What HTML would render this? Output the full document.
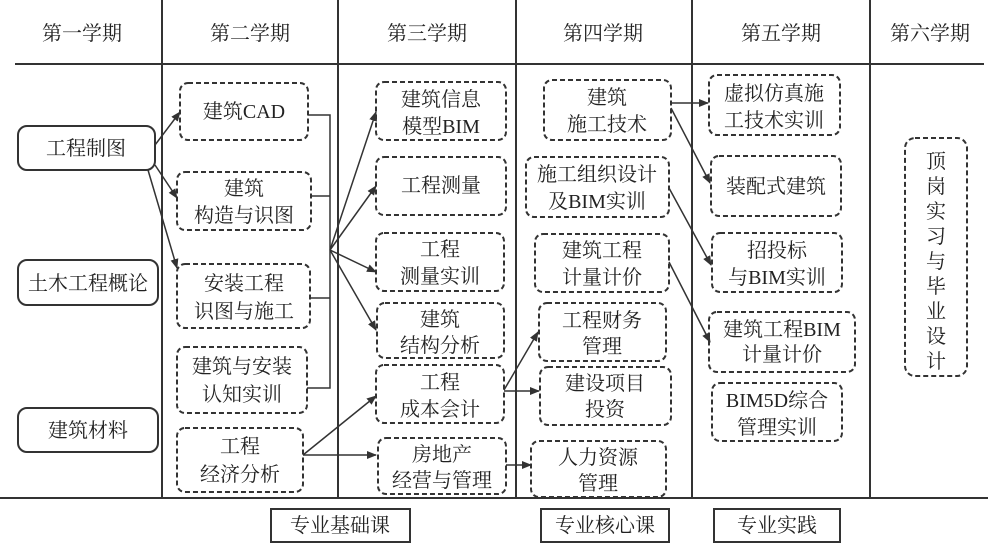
<!DOCTYPE html>
<html><head><meta charset="utf-8"><style>
html,body{margin:0;padding:0;background:#fff}
svg{display:block}
text{font-family:"Liberation Serif","Noto Serif CJK SC","Noto Sans CJK SC",serif;fill:#222;font-size:20px;text-anchor:middle}
.d{fill:#fff;stroke:#333;stroke-width:2;stroke-dasharray:5,3}
.s{fill:#fff;stroke:#333;stroke-width:2}
.l{stroke:#333;stroke-width:1.5;fill:none}
</style></head><body>
<svg width="991" height="552" viewBox="0 0 991 552">
<defs><marker id="a" markerWidth="10" markerHeight="8" refX="9" refY="4" orient="auto" markerUnits="userSpaceOnUse"><path d="M0,0 L10,4 L0,8 z" fill="#333"/></marker></defs>
<g stroke="#333" stroke-width="2">
<line x1="15" y1="64" x2="984" y2="64"/><line x1="0" y1="498" x2="988" y2="498"/>
<line x1="162" y1="0" x2="162" y2="498"/><line x1="338" y1="0" x2="338" y2="498"/><line x1="516" y1="0" x2="516" y2="498"/><line x1="692" y1="0" x2="692" y2="498"/><line x1="870" y1="0" x2="870" y2="498"/>
</g>
<text x="82" y="40">第一学期</text><text x="250" y="40">第二学期</text><text x="427" y="40">第三学期</text><text x="603" y="40">第四学期</text><text x="781" y="40">第五学期</text><text x="930" y="40">第六学期</text>
<rect class="s" x="18" y="126" width="137" height="44" rx="9"/><text x="86" y="155">工程制图</text>
<rect class="s" x="18" y="260" width="140" height="45" rx="9"/><text x="88" y="290">土木工程概论</text>
<rect class="s" x="18" y="408" width="140" height="44" rx="9"/><text x="88" y="437">建筑材料</text>
<rect class="d" x="180" y="83" width="128" height="57" rx="8"/><text x="244" y="118">建筑CAD</text>
<rect class="d" x="177" y="172" width="134" height="58" rx="8"/><text x="244" y="195">建筑</text><text x="244" y="222">构造与识图</text>
<rect class="d" x="177" y="264" width="133" height="64" rx="8"/><text x="244" y="290">安装工程</text><text x="244" y="318">识图与施工</text>
<rect class="d" x="177" y="347" width="130" height="66" rx="8"/><text x="242" y="373">建筑与安装</text><text x="242" y="401">认知实训</text>
<rect class="d" x="177" y="428" width="126" height="64" rx="8"/><text x="240" y="453">工程</text><text x="240" y="481">经济分析</text>
<rect class="d" x="376" y="82" width="130" height="58" rx="8"/><text x="441" y="106">建筑信息</text><text x="441" y="133">模型BIM</text>
<rect class="d" x="376" y="157" width="130" height="58" rx="8"/><text x="441" y="192">工程测量</text>
<rect class="d" x="376" y="233" width="128" height="58" rx="8"/><text x="440" y="256">工程</text><text x="440" y="283">测量实训</text>
<rect class="d" x="377" y="303" width="127" height="55" rx="8"/><text x="440" y="326">建筑</text><text x="440" y="352">结构分析</text>
<rect class="d" x="376" y="365" width="128" height="58" rx="8"/><text x="440" y="389">工程</text><text x="440" y="416">成本会计</text>
<rect class="d" x="378" y="438" width="128" height="56" rx="8"/><text x="442" y="461">房地产</text><text x="442" y="487">经营与管理</text>
<rect class="d" x="544" y="80" width="127" height="60" rx="8"/><text x="607" y="104">建筑</text><text x="607" y="131">施工技术</text>
<rect class="d" x="526" y="157" width="143" height="60" rx="8"/><text x="597" y="181">施工组织设计</text><text x="597" y="208">及BIM实训</text>
<rect class="d" x="535" y="234" width="134" height="58" rx="8"/><text x="602" y="257">建筑工程</text><text x="602" y="284">计量计价</text>
<rect class="d" x="539" y="303" width="127" height="58" rx="8"/><text x="602" y="327">工程财务</text><text x="602" y="353">管理</text>
<rect class="d" x="540" y="367" width="131" height="58" rx="8"/><text x="605" y="390">建设项目</text><text x="605" y="416">投资</text>
<rect class="d" x="531" y="441" width="135" height="56" rx="8"/><text x="598" y="464">人力资源</text><text x="598" y="490">管理</text>
<rect class="d" x="709" y="75" width="131" height="60" rx="8"/><text x="774" y="100">虚拟仿真施</text><text x="774" y="127">工技术实训</text>
<rect class="d" x="711" y="156" width="130" height="60" rx="8"/><text x="776" y="193">装配式建筑</text>
<rect class="d" x="712" y="233" width="130" height="59" rx="8"/><text x="777" y="257">招投标</text><text x="777" y="284">与BIM实训</text>
<rect class="d" x="709" y="312" width="146" height="60" rx="8"/><text x="782" y="336">建筑工程BIM</text><text x="782" y="361">计量计价</text>
<rect class="d" x="712" y="383" width="130" height="58" rx="8"/><text x="777" y="407">BIM5D综合</text><text x="777" y="434">管理实训</text>
<rect class="d" x="905" y="138" width="62" height="238" rx="10"/>
<text x="936" y="168">顶</text><text x="936" y="193">岗</text><text x="936" y="218">实</text><text x="936" y="243">习</text><text x="936" y="268">与</text><text x="936" y="293">毕</text><text x="936" y="318">业</text><text x="936" y="343">设</text><text x="936" y="368">计</text>
<g class="l" marker-end="url(#a)">
<line x1="155" y1="145" x2="180" y2="112"/><line x1="155" y1="165" x2="177" y2="198"/><line x1="148" y1="170" x2="177" y2="268"/>
<line x1="330" y1="250" x2="376" y2="112"/><line x1="330" y1="250" x2="376" y2="186"/><line x1="330" y1="250" x2="376" y2="272"/><line x1="330" y1="250" x2="376" y2="330"/>
<line x1="303" y1="455" x2="376" y2="396"/><line x1="303" y1="455" x2="376" y2="455"/>
<line x1="504" y1="390" x2="538" y2="332"/><line x1="504" y1="391" x2="539" y2="391"/>
<line x1="506" y1="465" x2="531" y2="465"/>
<line x1="671" y1="103" x2="708" y2="103"/><line x1="671" y1="108" x2="710" y2="183"/>
<line x1="669" y1="188" x2="711" y2="265"/><line x1="669" y1="262" x2="710" y2="342"/>
</g>
<path class="l" d="M308 115 H330 V388 H307 M311 196 H330 M310 298 H330"/>
<rect class="s" x="271" y="509" width="139" height="33"/><text x="340" y="532">专业基础课</text>
<rect class="s" x="541" y="509" width="128" height="33"/><text x="605" y="532">专业核心课</text>
<rect class="s" x="714" y="509" width="126" height="33"/><text x="777" y="532">专业实践</text>
</svg>
</body></html>
